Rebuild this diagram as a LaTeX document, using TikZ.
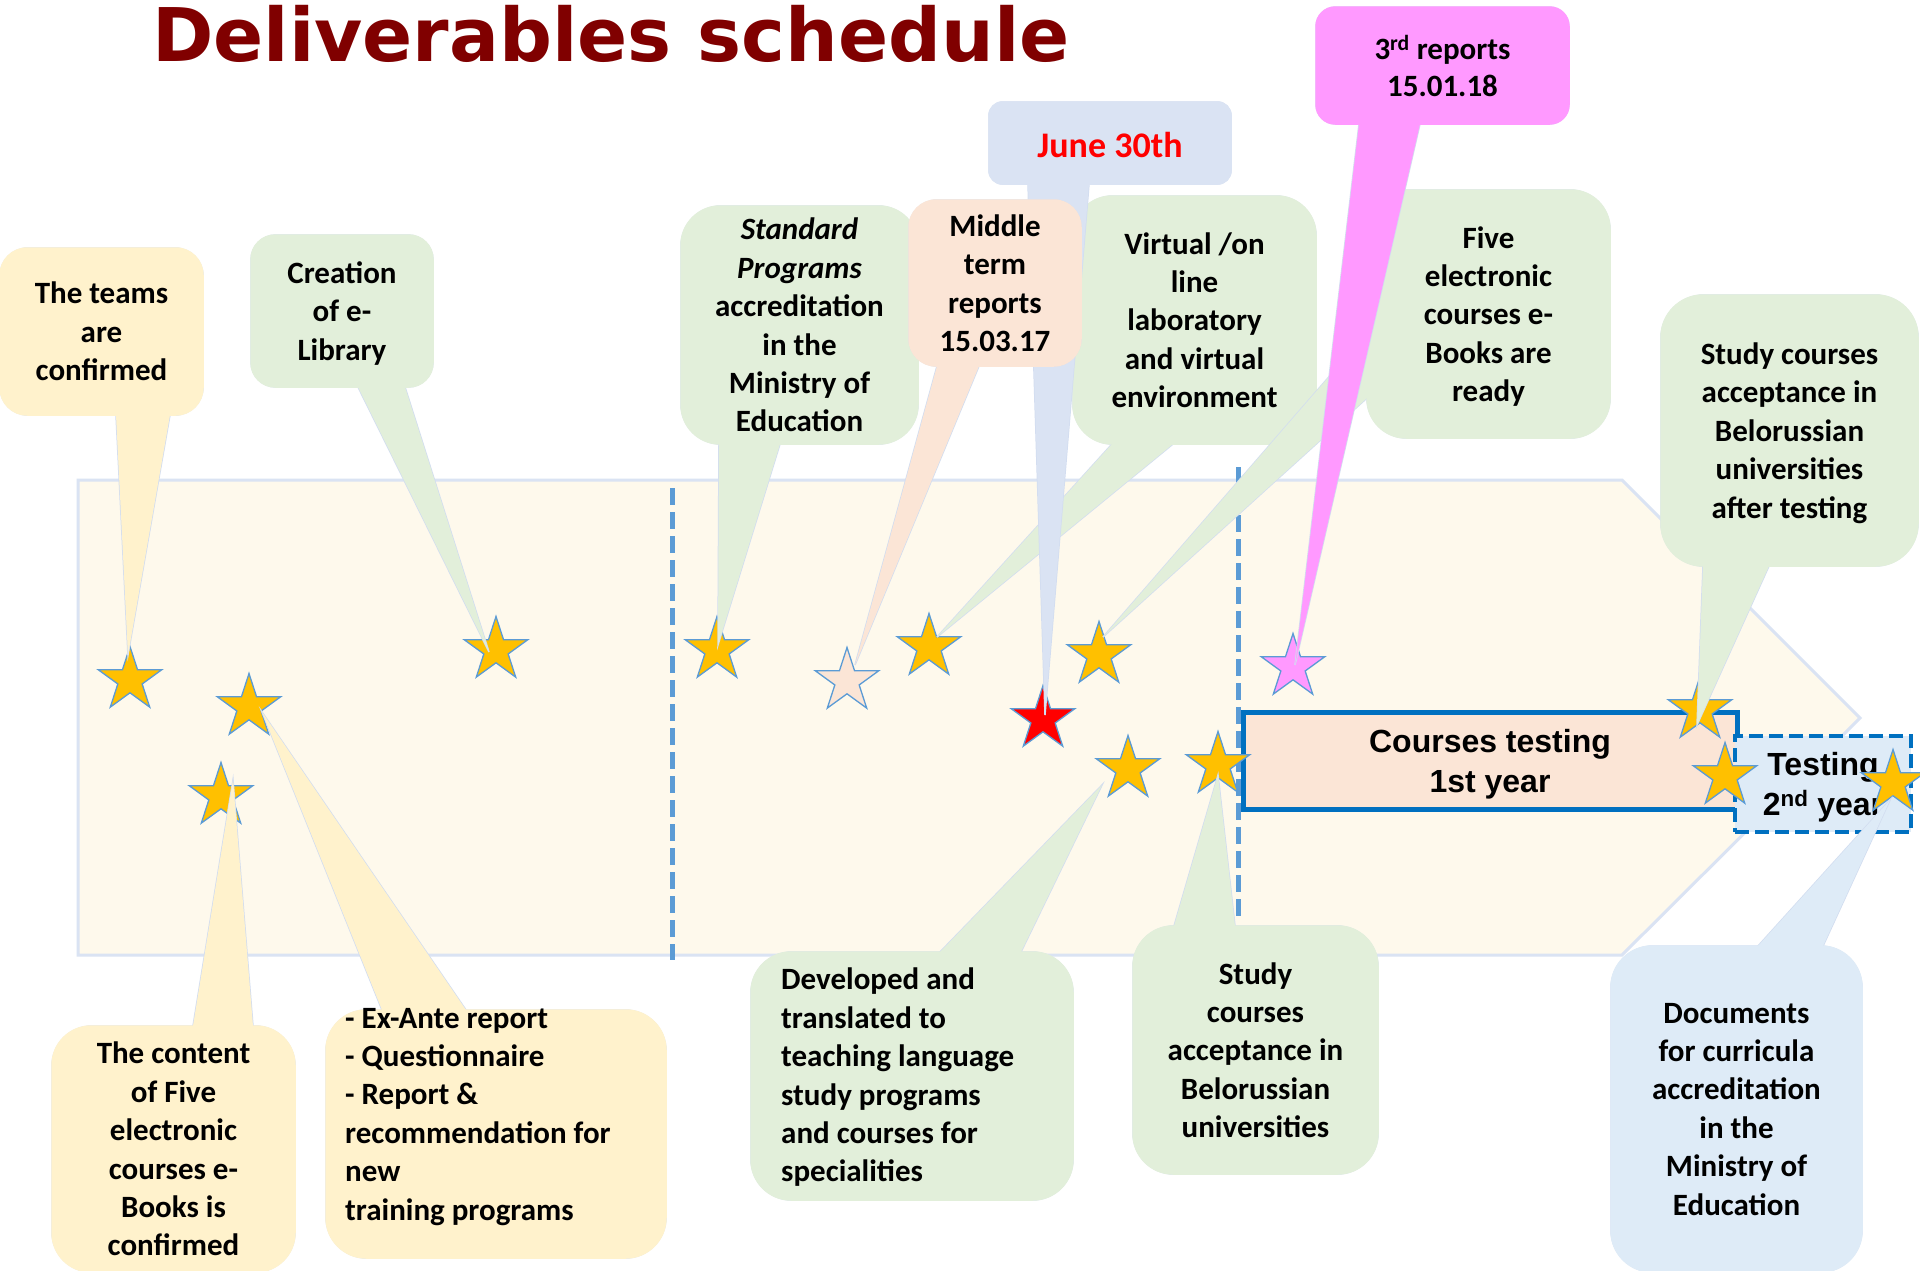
\documentclass[tikz,border=0pt]{standalone}
\usepackage{fontspec}
\setmainfont{Carlito}
\newfontfamily\arialf{Liberation Sans}
\newfontfamily\titlef{DejaVu Sans}
\usetikzlibrary{shapes.geometric,fit,calc}
\definecolor{titlered}{RGB}{128,0,0}
\definecolor{arrowfill}{RGB}{254,249,236}
\definecolor{arrowline}{RGB}{218,227,243}
\definecolor{cborder}{RGB}{210,221,240}
\definecolor{cyellow}{RGB}{255,242,204}
\definecolor{cgreen}{RGB}{226,239,218}
\definecolor{corange}{RGB}{251,229,214}
\definecolor{cblue}{RGB}{218,227,243}
\definecolor{cbluetwo}{RGB}{222,235,247}
\definecolor{cpink}{RGB}{255,153,255}
\definecolor{staryellow}{RGB}{255,192,0}
\definecolor{starline}{RGB}{91,155,213}
\definecolor{dashblue}{RGB}{91,155,213}
\definecolor{boxblue}{RGB}{0,112,192}
\newcommand{\topstrut}{\rule{0pt}{41.4pt}}
\newcommand{\botstrut}{\rule[-8pt]{0pt}{8pt}}
\newcommand{\mystrut}{\rule[-2.6pt]{0pt}{32.6pt}}
\tikzset{
  cbox/.style={inner sep=0pt, draw=cborder, line width=1.5pt},
  cwedge/.style={draw=cborder, line width=1.5pt},
  ctext/.style={font=\fontsize{31}{38.4}\selectfont\bfseries, align=center, inner sep=0pt,
    yshift=-4pt, execute at begin node=\topstrut, execute at end node=\botstrut},
  mystar/.style={star, star points=5, star point ratio=2.618, minimum size=67pt,
    inner sep=0pt, draw=starline, line width=1.3pt},
  vdash/.style={draw=dashblue, line width=5pt, dash pattern=on 17pt off 7pt},
  testfont/.style={font=\arialf\bfseries\fontsize{32}{40}\selectfont, align=center,
    execute at begin node=\topstrut, execute at end node=\botstrut},
}
\newcommand{\cshape}[8]{%
  \coordinate (#1-a) at #3;
  \coordinate (#1-b) at #4;
  \node[cbox, fit=(#1-a)(#1-b), rounded corners=#8, fill=#2] (#1) {};
  \filldraw[cwedge, fill=#2] #5 -- #7 -- #6 -- cycle;
  \fill[#2, rounded corners=#8] (#1.south west) rectangle (#1.north east);
  \fill[#2] #5 -- #7 -- #6 -- cycle;
}
\begin{document}
\begin{tikzpicture}[x=1pt,y=-1pt]
\useasboundingbox (0,0) rectangle (1920,1270);
\fill[white] (0,0) rectangle (1920,1270);

% title
\node[anchor=base west, inner sep=0pt, font=\titlef\bfseries\fontsize{74}{88}\selectfont,
  text=titlered] (title) at (152,61) {Deliverables schedule};

% background arrow
\path[fill=arrowfill, draw=arrowline, line width=3pt]
  (78,480) -- (1622,480) -- (1860,718) -- (1622,955) -- (78,955) -- cycle;

% dashed separators
\coordinate (d1a) at (672,488); \coordinate (d1b) at (672,960);
\coordinate (d2a) at (1238,467); \coordinate (d2b) at (1238,922);
\draw[vdash] (d1a) -- (d1b);
\draw[vdash] (d2a) -- (d2b);

% testing boxes
\node[draw=boxblue, line width=5pt, fill=corange, minimum width=494pt, minimum height=97pt,
  inner sep=0pt] (ctest) at (1490,760.5) {};
\node[testfont, inner sep=0pt, yshift=-4pt] (ctest-t) at (ctest) {Courses testing\\1st year};
\node[draw=boxblue, line width=4pt, dash pattern=on 14pt off 6pt, fill=cbluetwo,
  minimum width=176pt, minimum height=96pt, inner sep=0pt] (ttest) at (1823,784) {};
\node[testfont, inner sep=0pt, yshift=-4pt] (ttest-t) at (ttest) {Testing\\2\textsuperscript{nd} year};

% stars
\node[mystar, fill=staryellow] (sA) at (130,680) {};
\node[mystar, fill=staryellow] (sB) at (249,707) {};
\node[mystar, fill=staryellow] (sC) at (221,796) {};
\node[mystar, fill=staryellow] (sD) at (496,650) {};
\node[mystar, fill=staryellow] (sE) at (717,650) {};
\node[mystar, fill=corange] (sF) at (847,681) {};
\node[mystar, fill=staryellow] (sG) at (929,647) {};
\node[mystar, fill=staryellow] (sH) at (1099,655) {};
\node[mystar, fill=red] (sI) at (1043,719) {};
\node[mystar, fill=staryellow] (sJ) at (1128,769) {};
\node[mystar, fill=staryellow] (sK) at (1218,765) {};
\node[mystar, fill=cpink] (sL) at (1293,667) {};
\node[mystar, fill=staryellow] (sM) at (1700,710) {};
\node[mystar, fill=staryellow] (sN) at (1725,776) {};
\node[mystar, fill=staryellow] (sO) at (1893,783) {};

% pointer tips
\coordinate (tA) at (128,655);
\coordinate (tD) at (489,652);
\coordinate (tE) at (718,645);
\coordinate (tF) at (855,665);
\coordinate (tI) at (1045,715);
\coordinate (tG) at (937,637);
\coordinate (tH) at (1103,637);
\coordinate (tL) at (1295,665);
\coordinate (tM) at (1697,725);
\coordinate (tC) at (233,780);
\coordinate (tB) at (262,712);
\coordinate (tJ) at (1102,785);
\coordinate (tK) at (1218,775);
\coordinate (tO) at (1890,800);

% callouts
\cshape{teams}{cyellow}{(0,248)}{(203,415)}{(116,415)}{(170,415)}{(tA)}{28pt}
\node[ctext] (teams-t) at (teams) {The teams\\are\\confirmed};

\cshape{elib}{cgreen}{(251,235)}{(433,387)}{(358,387)}{(405,387)}{(tD)}{25pt}
\node[ctext] (elib-t) at (elib) {Creation\\of e-\\Library};

\cshape{content}{cyellow}{(52,1026)}{(295,1272)}{(193,1026)}{(253,1026)}{(tC)}{40pt}
\node[ctext] (content-t) at (content) {The content\\of Five\\electronic\\courses e-\\Books is\\confirmed};

\cshape{exante}{cyellow}{(326,1010)}{(666,1258)}{(382,1010)}{(466,1010)}{(tB)}{41pt}
\node[ctext, align=left, anchor=west] (exante-t) at (345,1114)
  {- Ex-Ante report\\- Questionnaire\\- Report \&\\recommendation for\\new\\training programs};

\cshape{std}{cgreen}{(681,206)}{(918,444)}{(719,444)}{(780,444)}{(tE)}{40pt}
\node[ctext] (std-t) at (std) {\textit{Standard}\\\textit{Programs}\\accreditation\\in the\\Ministry of\\Education};

\cshape{virt}{cgreen}{(1073,196)}{(1316,444)}{(1112,444)}{(1173,444)}{(tG)}{40pt}
\node[ctext] (virt-t) at (virt) {Virtual /on\\line\\laboratory\\and virtual\\environment};

\cshape{june}{cblue}{(989,102)}{(1231,184)}{(1028,184)}{(1089,184)}{(tI)}{14pt}
\node[ctext, yshift=6pt, font=\fontsize{36}{44}\selectfont\bfseries, text=red,
  execute at begin node=\mystrut, execute at end node=\mystrut] (june-t) at (june) {June 30th};

\cshape{mid}{corange}{(909,200)}{(1081,366)}{(937,366)}{(979,366)}{(tF)}{28pt}
\node[ctext] (mid-t) at (mid) {Middle\\term\\reports\\15.03.17};

\cshape{five}{cgreen}{(1367,190)}{(1610,438)}{(1367,333)}{(1367,398)}{(tH)}{40pt}
\node[ctext] (five-t) at (five) {Five\\electronic\\courses e-\\Books are\\ready};

\cshape{third}{cpink}{(1316,7)}{(1569,124)}{(1359,124)}{(1420,124)}{(tL)}{20pt}
\node[ctext, font=\fontsize{31}{37}\selectfont\bfseries] (third-t) at (third) {3\textsuperscript{rd} reports\\15.01.18};

\cshape{after}{cgreen}{(1661,295)}{(1918,566)}{(1703,566)}{(1769,566)}{(tM)}{43pt}
\node[ctext] (after-t) at (after) {Study courses\\acceptance in\\Belorussian\\universities\\after testing};

\cshape{devel}{cgreen}{(751,952)}{(1073,1200)}{(940,952)}{(1021,952)}{(tJ)}{41pt}
\node[ctext, align=left, anchor=west] (devel-t) at (781,1075)
  {Developed and\\translated to\\teaching language\\study programs\\and courses for\\specialities};

\cshape{accept}{cgreen}{(1133,926)}{(1378,1174)}{(1174,926)}{(1235,926)}{(tK)}{41pt}
\node[ctext] (accept-t) at (accept) {Study\\courses\\acceptance in\\Belorussian\\universities};

\cshape{docs}{cbluetwo}{(1611,946)}{(1862,1272)}{(1758,946)}{(1823,946)}{(tO)}{42pt}
\node[ctext] (docs-t) at (docs) {Documents\\for curricula\\accreditation\\in the\\Ministry of\\Education};

\end{tikzpicture}
\end{document}
